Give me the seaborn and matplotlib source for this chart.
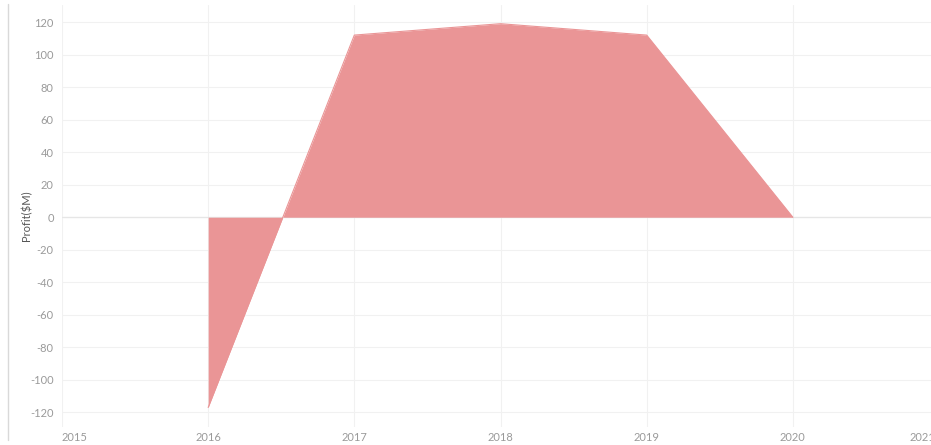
import numpy as np
import pandas as pd
import matplotlib
matplotlib.use('Agg')
import matplotlib.pyplot as plt
import seaborn as sns
from matplotlib.lines import Line2D

# data
years = [2016, 2017, 2018, 2019, 2020]
profit = [-117, 112, 119, 112, 0]
x_ticks = [2015, 2016, 2017, 2018, 2019, 2020, 2021]
y_ticks = [-120, -100, -80, -60, -40, -20, 0, 20, 40, 60, 80, 100, 120]

FILL = '#ea9596'
GRID = '#f1f1f1'
TXT = '#9a9a9a'

sns.set_style('white')
plt.rcParams['font.family'] = ['Lato', 'DejaVu Sans']

df = pd.DataFrame({'year': years, 'profit': profit})

fig = plt.figure(figsize=(9.31, 4.45), dpi=100)
W, H = 931, 445
# axes runs a bit past the right edge, like the cropped original
ax = fig.add_axes([62 / W, (H - 427) / H, (939 - 62) / W, (427 - 5) / H])

ax.fill_between(df['year'], df['profit'], 0, color=FILL, lw=0, zorder=2)
sns.lineplot(data=df, x='year', y='profit', ax=ax, color=FILL, lw=0.8, zorder=3)

ax.set_xlim(2015, 2021)
ax.set_ylim(-129, 130.5)
ax.set_xticks(x_ticks)
ax.set_yticks(y_ticks)
# last year label is drawn separately below, pulled in from the edge
ax.set_xticklabels([str(t) for t in x_ticks[:-1]] + [''])
ax.set_yticklabels([str(t) for t in y_ticks])
ax.grid(True, color=GRID, lw=0.8, zorder=0)
ax.axhline(0, color='#e6e6e6', lw=0.9, zorder=1)
for s in ax.spines.values():
    s.set_visible(False)
ax.tick_params(axis='both', length=0, labelsize=8, labelcolor=TXT)
ax.tick_params(axis='y', pad=6)
ax.tick_params(axis='x', pad=3.5)

# first year label sits to the right of its gridline
ax.get_xticklabels()[0].set_horizontalalignment('left')
ax.annotate(str(x_ticks[-1]), xy=(x_ticks[-1], 0), xycoords=ax.get_xaxis_transform(),
            xytext=(-21, -3.5), textcoords='offset points',
            ha='left', va='top', fontsize=8, color=TXT)

ax.set_xlabel('')
ax.set_ylabel('Profit($M)', fontsize=8, color='#555555')
ax.yaxis.set_label_coords(-30 / (939 - 62), 0.5)

# pane border at far left
fig.add_artist(Line2D([8 / W, 8 / W], [(H - 440) / H, (H - 4) / H],
                      color='#d9d9d9', lw=1, transform=fig.transFigure))

fig.savefig('out.png', dpi=100, facecolor='white')
